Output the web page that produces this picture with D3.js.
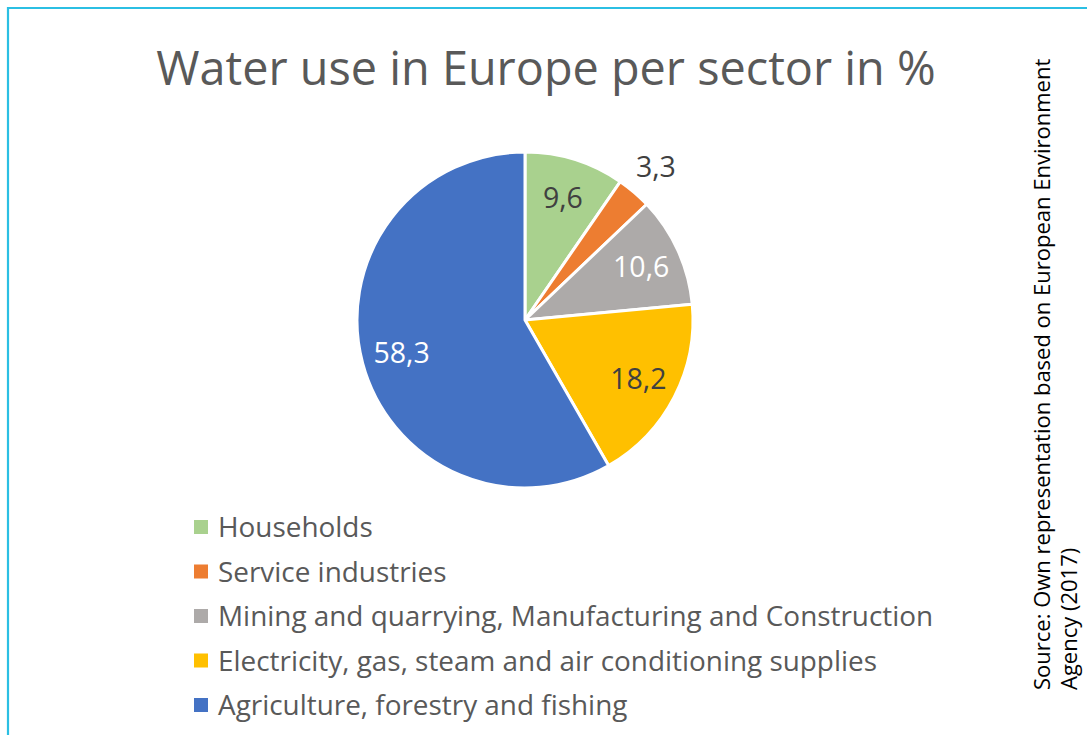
<!DOCTYPE html>
<html>
<head>
<meta charset="utf-8">
<script src="https://cdn.jsdelivr.net/npm/d3@7"></script>
<style>
  html, body { margin: 0; padding: 0; background: #fff; }
  svg { display: block; font-family: "Open Sans", Lato, sans-serif; font-variant-ligatures: none; }
</style>
</head>
<body>
<svg id="chart" width="1087" height="735"></svg>
<script>
// Water use shares per sector (%), clockwise from 12 o'clock
const sectors = [
  "Households",
  "Service industries",
  "Mining and quarrying, Manufacturing and Construction",
  "Electricity, gas, steam and air conditioning supplies",
  "Agriculture, forestry and fishing"
];
const shares = [9.6, 3.3, 10.6, 18.2, 58.3];
const sliceColors = ["#A9D18E", "#ED7D31", "#ADAAA9", "#FFC000", "#4472C4"];
const labelColors = ["#404040", "#404040", "#FFFFFF", "#404040", "#FFFFFF"];
const outsideLabel = [false, true, false, false, false];

const title = "Water use in Europe per sector in %";
const sourceLines = [
  "Source: Own representation based on European Environment",
  "Agency (2017)"
];

const fmt = v => d3.format(".1f")(v).replace(".", ",");

const svg = d3.select("#chart");
const W = 1087, H = 735;

// frame (top and left edges visible)
svg.append("path")
  .attr("d", `M8,${H} L8,8 L${W},8`)
  .attr("fill", "none")
  .attr("stroke", "#2BBFE3")
  .attr("stroke-width", 2.2);

// title
svg.append("text")
  .attr("x", 546)
  .attr("y", 85)
  .attr("text-anchor", "middle")
  .attr("fill", "#595959")
  .attr("font-size", 46.8)
  .text(title);

// pie
const cx = 525, cy = 320, R = 168;
const data = sectors.map((s, i) => ({ sector: s, value: shares[i], i }));
const pie = d3.pie().value(d => d.value).sort(null);
const arcs = pie(data);
const arc = d3.arc().innerRadius(0).outerRadius(R);
const inLabel = d3.arc().innerRadius(R * 0.76).outerRadius(R * 0.76);
const outLabel = d3.arc().innerRadius(R * 1.2).outerRadius(R * 1.2);

const g = svg.append("g").attr("transform", `translate(${cx},${cy})`);
g.selectAll("path.slice")
  .data(arcs)
  .join("path")
  .attr("class", "slice")
  .attr("d", arc)
  .attr("fill", d => sliceColors[d.data.i])
  .attr("stroke", "#fff")
  .attr("stroke-width", 3)
  .attr("stroke-linejoin", "round");

g.selectAll("text.val")
  .data(arcs)
  .join("text")
  .attr("class", "val")
  .attr("transform", d => `translate(${(outsideLabel[d.data.i] ? outLabel : inLabel).centroid(d)})`)
  .attr("text-anchor", "middle")
  .attr("dy", "0.36em")
  .attr("font-size", 28.5)
  .attr("fill", d => labelColors[d.data.i])
  .text(d => fmt(d.data.value));

// legend
const legendY = d3.scalePoint().domain(sectors).range([527, 705]);
const lg = svg.append("g");
const rows = lg.selectAll("g.row")
  .data(data)
  .join("g")
  .attr("class", "row")
  .attr("transform", d => `translate(194,${legendY(d.sector)})`);
rows.append("rect")
  .attr("x", 0).attr("y", -7)
  .attr("width", 14).attr("height", 14)
  .attr("fill", d => sliceColors[d.i]);
rows.append("text")
  .attr("x", 24)
  .attr("dy", "0.36em")
  .attr("font-size", 27.9)
  .attr("fill", "#595959")
  .text(d => d.sector);

// rotated source note
const src = svg.append("text")
  .attr("transform", "translate(1050,690) rotate(-90)")
  .attr("font-size", 22)
  .attr("fill", "#000");
src.selectAll("tspan")
  .data(sourceLines)
  .join("tspan")
  .attr("x", 0)
  .attr("y", (d, i) => i * 27)
  .text(d => d);
</script>
</body>
</html>
